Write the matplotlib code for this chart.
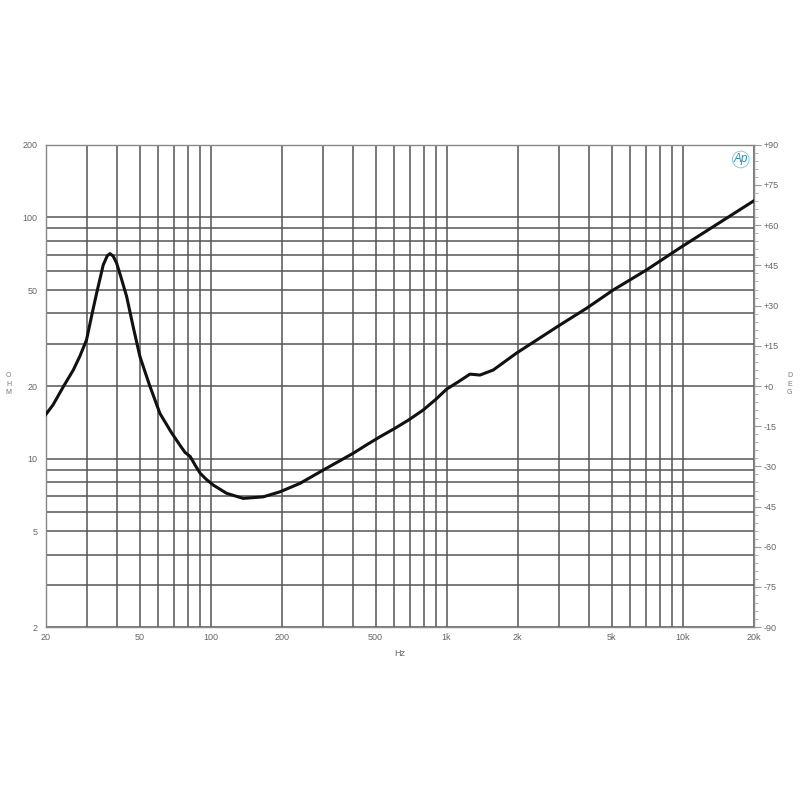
import numpy as np
import matplotlib.pyplot as plt
from matplotlib.ticker import FixedLocator, NullFormatter, MultipleLocator

plt.rcParams['font.family'] = ['Liberation Sans', 'DejaVu Sans']
plt.rcParams['font.size'] = 6.5

# impedance curve (Hz, ohm)
freq = [20, 21.5, 23.8, 26.2, 27.9, 29.8, 31.5, 32.9, 35.1, 36.5, 37.5, 38.7,
        40.0, 41.5, 44.1, 47, 50.2, 55, 61, 68, 74, 78, 82, 86, 90.4, 96,
        102.6, 117, 137.5, 167, 196.6, 239, 300, 402, 458, 521, 600, 690,
        796, 900, 1000, 1120, 1257, 1385, 1577, 1981, 3022, 3919, 5082,
        7041, 9900, 20000]
ohm = [15.2, 16.7, 19.9, 23.3, 26.5, 31.0, 40, 48.5, 63.6, 69.3, 70.8, 69.0,
       64.6, 57.5, 47.0, 35.2, 26.5, 20.3, 15.4, 12.9, 11.4, 10.6, 10.2, 9.4,
       8.69, 8.2, 7.77, 7.18, 6.84, 6.94, 7.28, 7.89, 8.96, 10.52, 11.4, 12.3,
       13.3, 14.45, 15.9, 17.6, 19.4, 20.8, 22.4, 22.2, 23.3, 27.4, 35.8, 42,
       50, 60.6, 75.5, 117]

x_ticks = [20, 50, 100, 200, 500, 1000, 2000, 5000, 10000, 20000]
x_labels = ['20', '50', '100', '200', '500', '1k', '2k', '5k', '10k', '20k']
y_ticks = [2, 5, 10, 20, 50, 100, 200]
y_labels = ['2', '5', '10', '20', '50', '100', '200']
deg_ticks = list(range(-90, 91, 15))
deg_labels = ['+%d' % d if d >= 0 else '%d' % d for d in deg_ticks]

grid_c = '#555555'
text_c = '#666666'

fig = plt.figure(figsize=(8, 8), dpi=100)
ax = fig.add_axes([0.057, 0.216, 0.885, 0.603])
ax.set_xscale('log')
ax.set_yscale('log')
ax.set_xlim(20, 20000)
ax.set_ylim(2, 200)

# gridlines at every 1..9 multiple of each decade
xgrid = [m * 10**e for e in range(1, 5) for m in range(1, 10) if 20 <= m * 10**e <= 20000]
ygrid = [m * 10**e for e in range(0, 3) for m in range(1, 10) if 2 <= m * 10**e <= 200]
ax.xaxis.set_major_locator(FixedLocator(x_ticks))
ax.xaxis.set_minor_locator(FixedLocator(xgrid))
ax.yaxis.set_major_locator(FixedLocator(y_ticks))
ax.yaxis.set_minor_locator(FixedLocator(ygrid))
ax.xaxis.set_minor_formatter(NullFormatter())
ax.yaxis.set_minor_formatter(NullFormatter())
ax.set_xticklabels(x_labels)
ax.set_yticklabels(y_labels)
ax.grid(which='both', color=grid_c, linewidth=1.1)
ax.tick_params(which='both', length=0, colors=text_c, labelsize=6.5)
ax.tick_params(axis='x', pad=4)
ax.tick_params(axis='y', pad=6)
for s in ax.spines.values():
    s.set_color('#888888')
    s.set_linewidth(1.0)

ax.plot(freq, ohm, color='#111111', linewidth=2.2, zorder=5)
ax.set_xlabel('Hz', color=text_c, fontsize=6.5, labelpad=5)

ax2 = ax.twinx()
ax2.set_ylim(-90, 90)
ax2.set_yticks(deg_ticks)
ax2.set_yticklabels(deg_labels)
ax2.yaxis.set_minor_locator(MultipleLocator(3))
ax2.tick_params(which='major', direction='out', length=5, color='#999999',
                labelcolor=text_c, labelsize=6.5, pad=2.5)
ax2.tick_params(which='minor', direction='out', length=3, color='#aaaaaa')
for s in ax2.spines.values():
    s.set_visible(False)

ax.text(0.992, 0.982, 'Ap', transform=ax.transAxes, ha='right', va='top',
        fontsize=8.5, style='italic', color='#2e8bc0', zorder=6,
        bbox=dict(boxstyle='circle,pad=0.1', fc='white', ec='#7fbfe0', lw=0.6))

fig.text(0.011, 0.52, 'O\nH\nM', ha='center', va='center', fontsize=5,
         color='#777777', linespacing=1.25)
fig.text(0.987, 0.52, 'D\nE\nG', ha='center', va='center', fontsize=5,
         color='#777777', linespacing=1.25)

fig.savefig('out.png', dpi=100, facecolor='white')
